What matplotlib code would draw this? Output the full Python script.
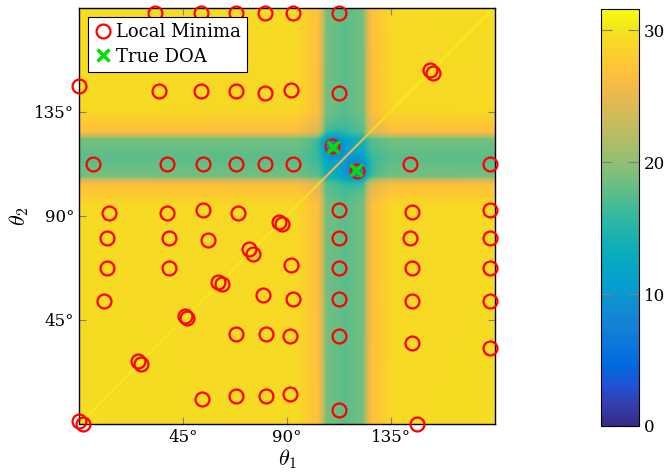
import numpy as np
import matplotlib.pyplot as plt
from matplotlib.colors import LinearSegmentedColormap

# cost surface: one profile across the band at ~115 deg
prof_deg = [0, 94, 98, 101, 103.5, 105.5, 107, 115, 123, 124.5, 126.5, 129, 132, 136, 180]
prof_val = [29.4, 29.2, 28.2, 27.3, 26.8, 23.0, 18.8, 17.6, 18.8, 23.0, 26.8, 27.3, 28.2, 29.2, 29.4]
cross_val = 12.5          # level where both bands overlap
diag_val = 31.0           # thin ridge on theta1 == theta2
doa_depth = 6.0
doa_width = 4.0
cbar_max = 31.6

# true DOA pairs
doa_t1 = [110, 120]
doa_t2 = [120, 110]

# local minima (theta1, theta2) in degrees
min_t1 = [32.9, 52.6, 67.8, 80.5, 92.7, 112.3,
          0.0, 34.7, 52.6, 67.8, 80.5, 91.6, 112.3,
          151.9, 153.3,
          6.1, 37.9, 53.7, 67.8, 80.6, 92.7, 143.2, 177.8,
          109.6, 120.2,
          13.1, 37.9, 53.7, 68.7, 112.5, 144.2, 177.8,
          86.5, 87.8,
          12.0, 38.9, 55.6, 112.5, 143.2, 177.8,
          73.6, 75.4,
          12.0, 38.9, 91.6, 112.5, 144.2, 177.8,
          60.3, 61.7,
          11.0, 79.5, 92.7, 112.5, 144.2, 177.8,
          45.9, 46.9,
          67.8, 80.8, 91.1, 112.5, 144.2, 177.8,
          25.7, 26.8,
          53.1, 67.8, 80.8, 91.3, 112.5,
          0.1, 1.6, 146.1]
min_t2 = [178.0, 178.0, 178.0, 178.0, 178.0, 178.0,
          146.2, 144.2, 144.2, 144.2, 143.4, 144.5, 143.4,
          153.2, 152.0,
          112.4, 112.4, 112.4, 112.4, 112.4, 112.4, 112.4, 112.4,
          120.2, 109.6,
          91.4, 91.4, 92.5, 91.4, 92.5, 91.6, 92.5,
          87.5, 86.5,
          80.5, 80.6, 79.6, 80.6, 80.6, 80.6,
          75.7, 73.6,
          67.6, 67.6, 68.7, 67.6, 67.6, 67.6,
          61.6, 60.6,
          53.2, 55.8, 54.3, 54.1, 53.2, 53.2,
          46.9, 45.7,
          38.8, 38.8, 37.9, 38.1, 34.9, 32.8,
          27.3, 26.0,
          10.9, 12.1, 12.1, 13.0, 6.1,
          1.4, 0.0, 0.0]

# matlab parula, every 3rd entry of the 64-colour table
parula_rgb = [
    (0.2081, 0.1663, 0.5292), (0.2081, 0.2386, 0.6771), (0.1253, 0.3242, 0.8303),
    (0.0060, 0.4086, 0.8828), (0.0498, 0.4586, 0.8641), (0.0779, 0.5040, 0.8384),
    (0.0641, 0.5570, 0.8240), (0.0265, 0.6137, 0.8135), (0.0228, 0.6535, 0.7768),
    (0.0590, 0.6838, 0.7254), (0.1453, 0.7098, 0.6646), (0.2586, 0.7317, 0.5954),
    (0.3953, 0.7459, 0.5244), (0.5300, 0.7491, 0.4661), (0.6473, 0.7456, 0.4188),
    (0.7525, 0.7384, 0.3768), (0.8507, 0.7299, 0.3360), (0.9450, 0.7261, 0.2886),
    (0.9990, 0.7653, 0.2164), (0.9789, 0.8271, 0.1633), (0.9589, 0.8949, 0.1132),
    (0.9763, 0.9831, 0.0538)]
parula = LinearSegmentedColormap.from_list("parula", parula_rgb)

plt.rcParams["font.family"] = "DejaVu Serif"
plt.rcParams["mathtext.fontset"] = "cm"

# build the surface on a fine grid
grid = np.linspace(0, 180, 721)
T1, T2 = np.meshgrid(grid, grid)
base = prof_val[0]
g1 = np.interp(T1, prof_deg, prof_val)
g2 = np.interp(T2, prof_deg, prof_val)
w1 = (base - g1) / (base - min(prof_val))
w2 = (base - g2) / (base - min(prof_val))
low = 2 * min(prof_val) - base
Z = g1 + g2 - base + (cross_val - low) * w1 * w2
for a, b in zip(doa_t1, doa_t2):
    Z -= doa_depth * np.exp(-((T1 - a) ** 2 + (T2 - b) ** 2) / (2 * doa_width ** 2))
ridge = np.abs(T1 - T2) < 0.6
Z[ridge] = Z[ridge] + 0.7 * (diag_val - Z[ridge])

fig = plt.figure(figsize=(6.72, 4.73), dpi=100)
ax = fig.add_axes([0.1176, 0.1036, 0.619, 0.8795])
cax = fig.add_axes([0.8943, 0.0994, 0.0565, 0.8816])

im = ax.imshow(Z, extent=[0, 180, 0, 180], origin="lower", cmap=parula,
               vmin=0, vmax=cbar_max, aspect="auto", interpolation="bilinear")

ax.plot(min_t1, min_t2, "o", mfc="none", mec="red", ms=10, mew=1.6,
        clip_on=False, zorder=5, label="Local Minima")
ax.plot(doa_t1, doa_t2, "x", color="#00e000", ms=9, mew=2.5,
        clip_on=False, zorder=6, label="True DOA")

ax.set_xlim(0, 180)
ax.set_ylim(0, 180)
ax.set_xticks([45, 90, 135])
ax.set_yticks([45, 90, 135])
ax.set_xticklabels(["45°", "90°", "135°"], fontsize=12)
ax.set_yticklabels(["45°", "90°", "135°"], fontsize=12)
ax.tick_params(direction="in", top=True, right=True, color="gray", length=5, width=0.8)
ax.set_xlabel(r"$\theta_1$", fontsize=16, labelpad=1)
ax.set_ylabel(r"$\theta_2$", fontsize=16, labelpad=2)
for sp in ax.spines.values():
    sp.set_linewidth(1.0)

leg = ax.legend(loc="upper left", fontsize=13, fancybox=False, framealpha=1,
                edgecolor="black", borderpad=0.35, handletextpad=0.2,
                handlelength=1.0, labelspacing=0.35, borderaxespad=0.5)
leg.get_frame().set_linewidth(0.8)

cb = fig.colorbar(im, cax=cax)
cb.set_ticks([0, 10, 20, 30])
cb.ax.tick_params(direction="in", left=True, right=True, color="gray",
                  length=8, width=0.8, labelsize=12)
cb.outline.set_linewidth(0.8)

plt.savefig("out.png", dpi=100)
